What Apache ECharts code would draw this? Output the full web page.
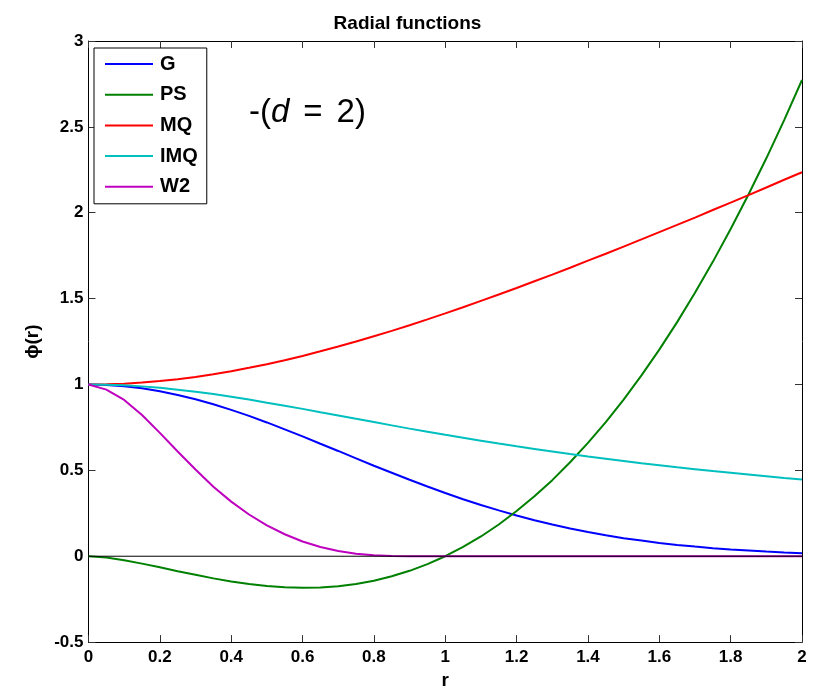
<!DOCTYPE html>
<html>
<head>
<meta charset="utf-8">
<script src="https://cdn.jsdelivr.net/npm/echarts@6/dist/echarts.min.js"></script>
<style>
  html, body { margin: 0; padding: 0; background: #fff; }
  #chart { width: 815px; height: 695px; }
</style>
</head>
<body>
<div id="chart"></div>
<script>
// Sample radii
const r = [0, 0.05, 0.1, 0.15, 0.2, 0.25, 0.3, 0.35, 0.4, 0.45, 0.5, 0.55, 0.6, 0.65, 0.7, 0.75, 0.8, 0.85, 0.9, 0.95,
           1.0, 1.05, 1.1, 1.15, 1.2, 1.25, 1.3, 1.35, 1.4, 1.45, 1.5, 1.55, 1.6, 1.65, 1.7, 1.75, 1.8, 1.85, 1.9, 1.95, 2.0];

// Gaussian
const G = [1, 0.9975, 0.990, 0.978, 0.961, 0.939, 0.914, 0.885, 0.852, 0.817, 0.779, 0.739, 0.698, 0.655, 0.613, 0.570, 0.527, 0.486, 0.445, 0.406,
           0.368, 0.332, 0.298, 0.267, 0.237, 0.210, 0.185, 0.162, 0.141, 0.122, 0.105, 0.091, 0.077, 0.066, 0.056, 0.047, 0.039, 0.033, 0.027, 0.022, 0.018];

// Polyharmonic spline
const PS = [0, -0.008, -0.023, -0.043, -0.064, -0.087, -0.108, -0.129, -0.147, -0.162, -0.173, -0.181, -0.184, -0.182, -0.175, -0.162, -0.143, -0.117, -0.085, -0.046,
            0, 0.054, 0.115, 0.185, 0.263, 0.349, 0.443, 0.547, 0.660, 0.781, 0.912, 1.053, 1.203, 1.363, 1.534, 1.714, 1.905, 2.106, 2.317, 2.539, 2.773];

// Multiquadric
const MQ = [1, 1.001, 1.005, 1.011, 1.020, 1.031, 1.044, 1.060, 1.077, 1.097, 1.118, 1.141, 1.166, 1.193, 1.221, 1.250, 1.281, 1.312, 1.345, 1.379,
            1.414, 1.450, 1.487, 1.524, 1.562, 1.601, 1.640, 1.680, 1.721, 1.761, 1.803, 1.845, 1.887, 1.929, 1.972, 2.016, 2.059, 2.103, 2.147, 2.192, 2.236];

// Inverse multiquadric
const IMQ = [1, 0.999, 0.995, 0.989, 0.981, 0.970, 0.958, 0.944, 0.929, 0.912, 0.894, 0.876, 0.858, 0.838, 0.819, 0.800, 0.781, 0.762, 0.743, 0.725,
             0.707, 0.690, 0.673, 0.656, 0.640, 0.625, 0.610, 0.595, 0.581, 0.568, 0.555, 0.542, 0.530, 0.518, 0.507, 0.496, 0.486, 0.476, 0.466, 0.456, 0.447];

// Wendland, compact support
const W2 = [1, 0.970, 0.910, 0.822, 0.718, 0.610, 0.505, 0.405, 0.318, 0.243, 0.180, 0.128, 0.086, 0.054, 0.031, 0.015, 0.006, 0.002, 0, 0,
            0, 0, 0, 0, 0, 0, 0, 0, 0, 0, 0, 0, 0, 0, 0, 0, 0, 0, 0, 0, 0];

// Zero reference line
const zeroR = [0, 2];
const zeroV = [0, 0];

const names = ['G', 'PS', 'MQ', 'IMQ', 'W2'];
const values = [G, PS, MQ, IMQ, W2];
const colors = ['#0000ff', '#008000', '#ff0000', '#00bfbf', '#bf00bf'];

const FONT = '"Liberation Sans", Arial, Helvetica, sans-serif';

const pairs = (xs, ys) => xs.map((x, i) => [x, ys[i]]);

const series = names.map((n, k) => ({
  name: n,
  type: 'line',
  data: pairs(r, values[k]),
  showSymbol: false,
  symbol: 'none',
  smooth: false,
  lineStyle: { color: colors[k], width: 2 },
  itemStyle: { color: colors[k] },
  emphasis: { disabled: true },
  animation: false
}));
series.push({
  name: 'zero',
  type: 'line',
  data: pairs(zeroR, zeroV),
  symbol: 'none',
  lineStyle: { color: '#000', width: 1 },
  emphasis: { disabled: true },
  animation: false
});

const axisCommon = {
  type: 'value',
  axisLine: { show: true, onZero: false, lineStyle: { color: '#000', width: 1 } },
  axisTick: { show: true, inside: true, length: 7, lineStyle: { color: '#333' } },
  splitLine: { show: false }
};

const tickFont = { fontFamily: FONT, fontSize: 17, fontWeight: 'bold', color: '#000' };
const nameFont = { fontFamily: FONT, fontSize: 19, fontWeight: 'bold', color: '#000' };

const chart = echarts.init(document.getElementById('chart'), null, { renderer: 'canvas' });
chart.setOption({
  backgroundColor: '#fff',
  animation: false,
  title: {
    text: 'Radial functions',
    left: 'center',
    top: 9,
    textStyle: { fontFamily: FONT, fontSize: 19, fontWeight: 'bold', color: '#000' }
  },
  grid: { left: 88.5, right: 13, top: 41, bottom: 46, containLabel: false },
  legend: {
    data: names,
    orient: 'vertical',
    left: 94,
    top: 48,
    padding: [5, 9, 6, 11],
    itemGap: 8.7,
    itemWidth: 48,
    itemHeight: 2,
    icon: 'rect',
    backgroundColor: '#fff',
    borderColor: '#000',
    borderWidth: 1,
    borderRadius: 0,
    selectedMode: false,
    textStyle: { fontFamily: FONT, fontSize: 20, fontWeight: 'bold', color: '#000', lineHeight: 22, padding: [0, 0, 0, 2] }
  },
  graphic: [{
    type: 'text',
    x: 249,
    y: 113,
    style: {
      text: '{n|-(}{i|d}{e|=}{n|2)}',
      textVerticalAlign: 'middle',
      rich: {
        n: { fontFamily: FONT, fontSize: 33, fill: '#000' },
        i: { fontFamily: FONT, fontSize: 33, fontStyle: 'italic', fill: '#000' },
        e: { fontFamily: FONT, fontSize: 33, fill: '#000', padding: [0, 14, 0, 14] }
      }
    }
  }],
  xAxis: [
    Object.assign({}, axisCommon, {
      position: 'bottom',
      min: 0, max: 2, interval: 0.2,
      name: 'r',
      nameLocation: 'middle',
      nameGap: 28,
      nameTextStyle: nameFont,
      axisLabel: Object.assign({ margin: 7, formatter: v => String(+v.toFixed(1)) }, tickFont)
    }),
    Object.assign({}, axisCommon, {
      position: 'top',
      min: 0, max: 2, interval: 0.2,
      axisLabel: { show: false }
    })
  ],
  yAxis: [
    Object.assign({}, axisCommon, {
      position: 'left',
      min: -0.5, max: 3, interval: 0.5,
      name: 'ϕ(r)',
      nameLocation: 'middle',
      nameGap: 46,
      nameTextStyle: nameFont,
      axisLabel: Object.assign({ margin: 5, formatter: v => String(+v.toFixed(1)) }, tickFont)
    }),
    Object.assign({}, axisCommon, {
      position: 'right',
      min: -0.5, max: 3, interval: 0.5,
      axisLabel: { show: false }
    })
  ],
  series: series
});
</script>
</body>
</html>
